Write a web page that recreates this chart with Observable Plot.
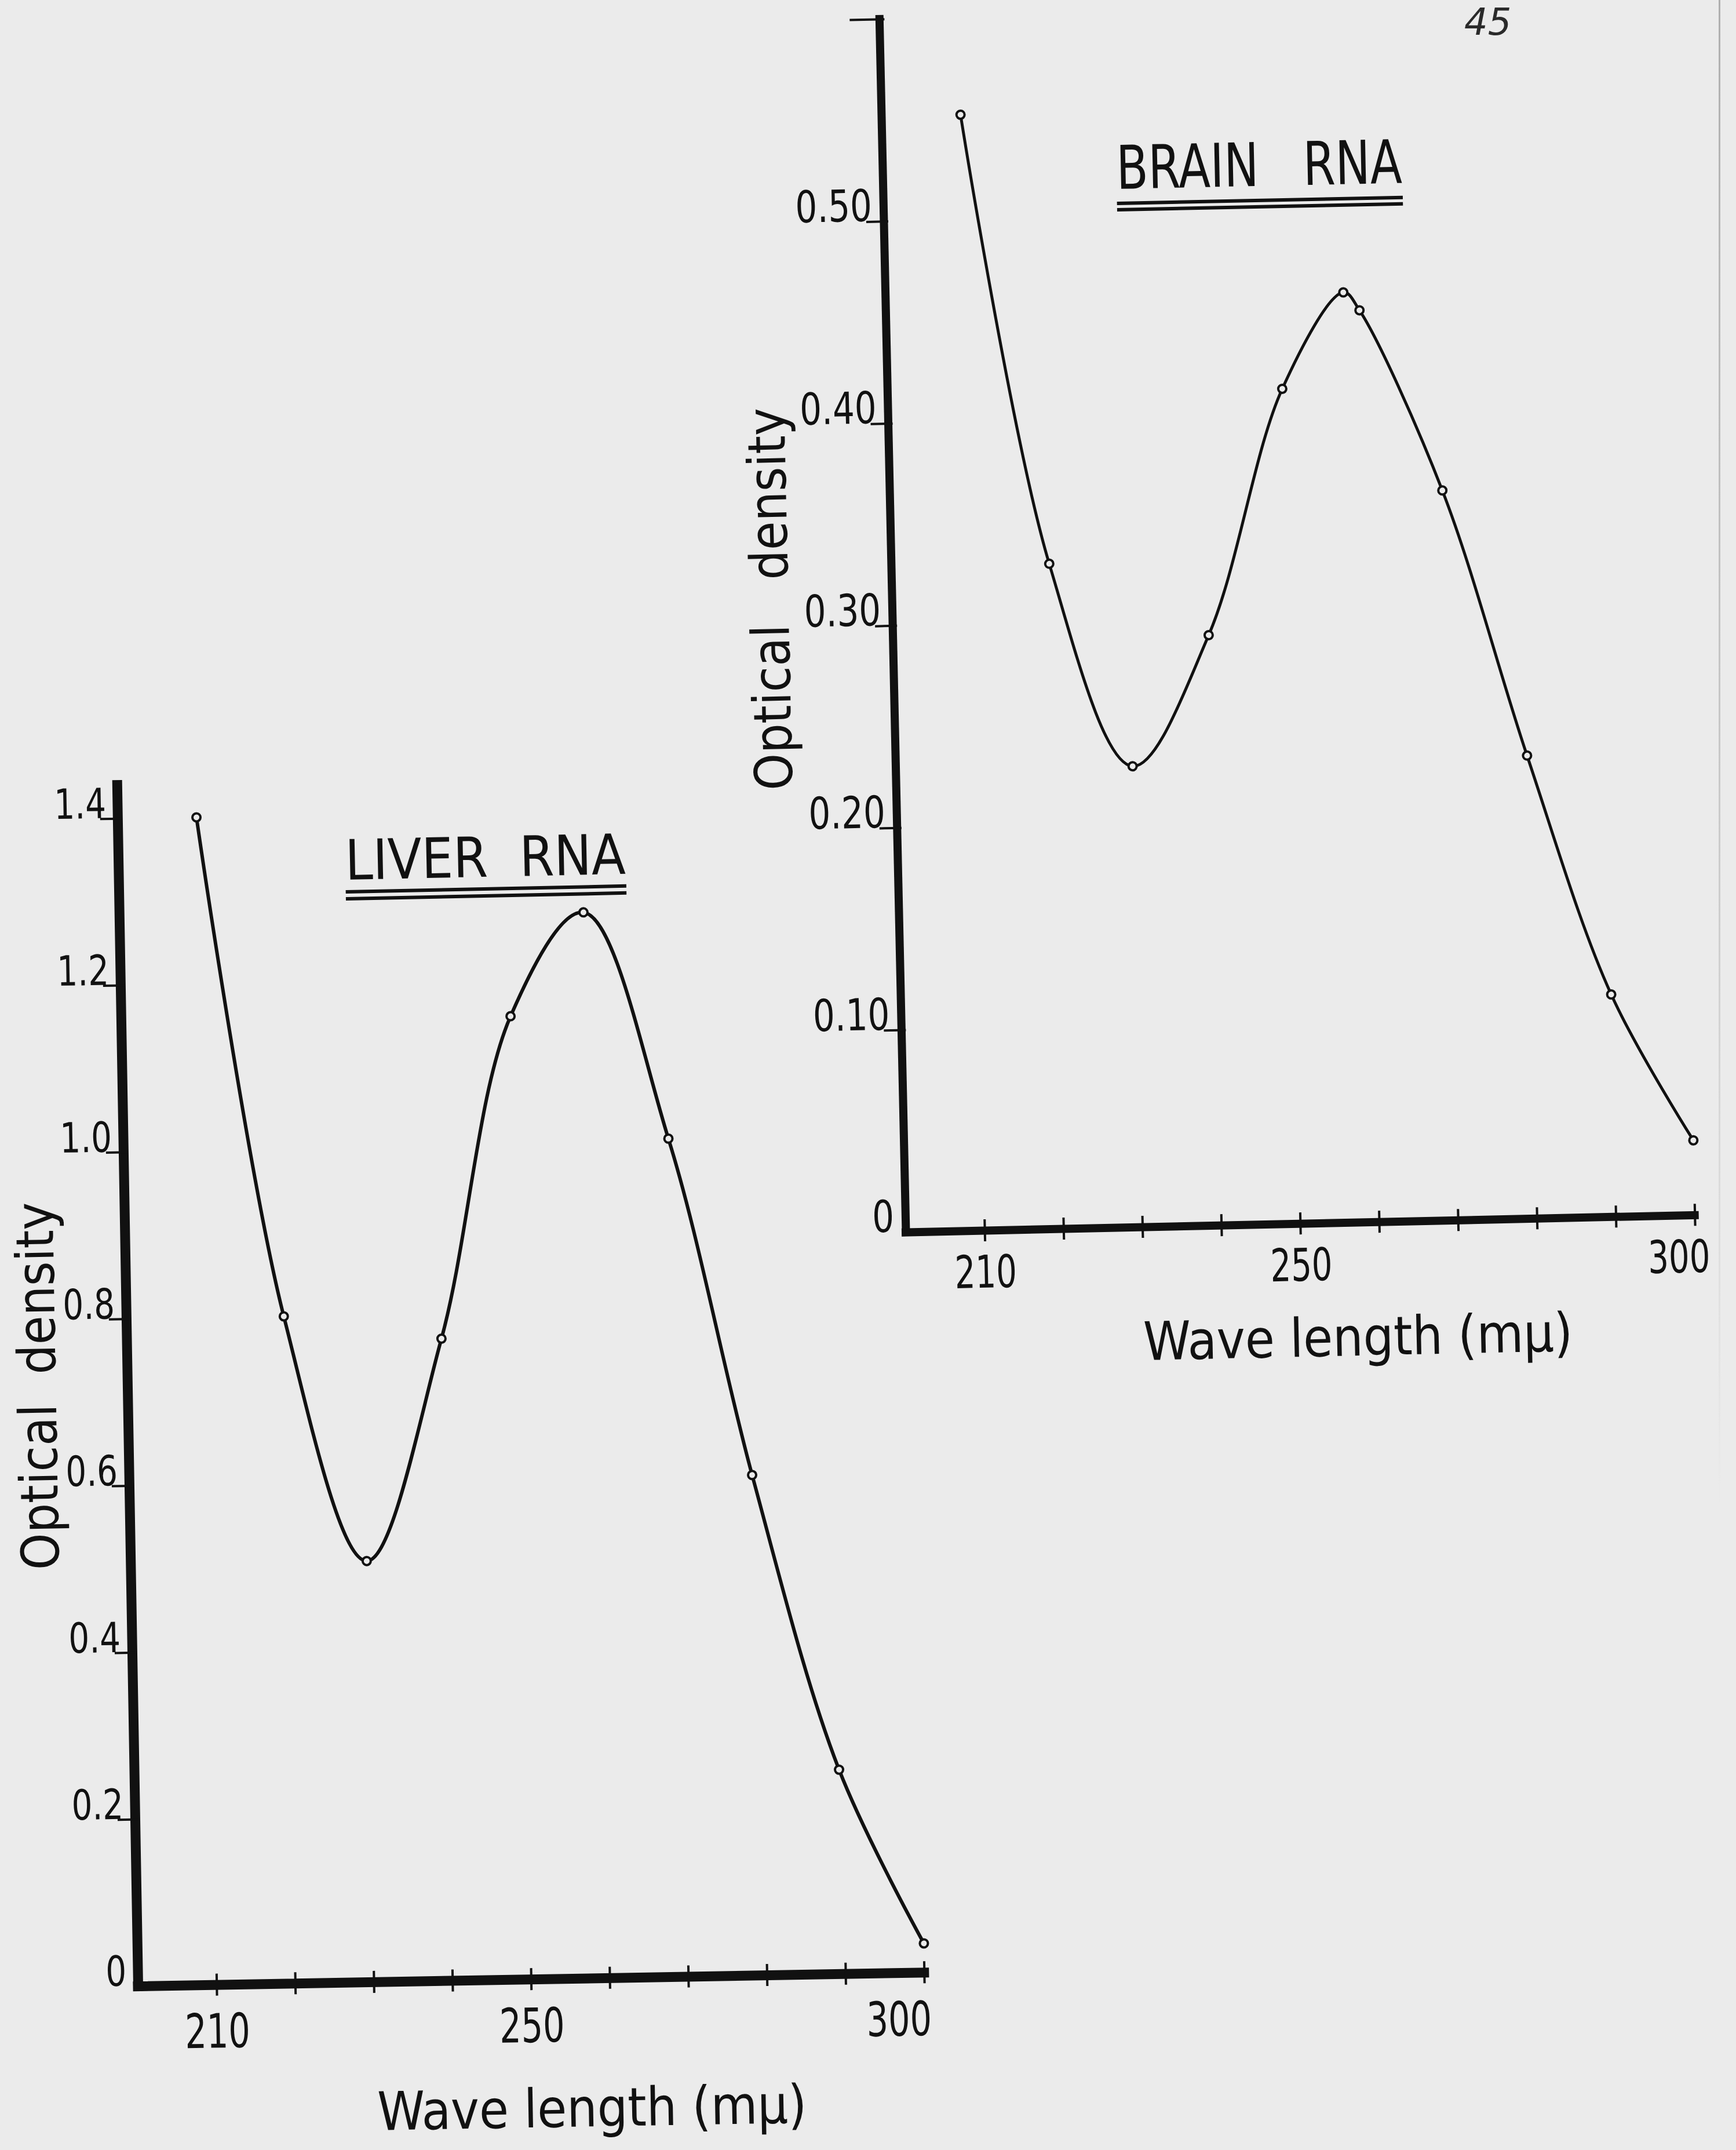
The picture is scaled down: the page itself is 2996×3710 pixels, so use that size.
<!DOCTYPE html>
<html>
<head>
<meta charset="utf-8">
<script src="https://cdn.jsdelivr.net/npm/d3@7"></script>
<script src="https://cdn.jsdelivr.net/npm/@observablehq/plot@0.6"></script>
<style>
  html, body { margin: 0; padding: 0; background: #ebebeb; }
  body { width: 2996px; height: 3710px; position: relative; overflow: hidden; }
  .panel { position: absolute; }
  .panel svg { display: block; max-width: none !important; overflow: visible; }
  .title {
    position: absolute; white-space: pre; color: #111;
    font-family: "DejaVu Sans Condensed", "DejaVu Sans", sans-serif; font-stretch: condensed;
    display: inline-block; transform-origin: left bottom;
  }
  .pageno { position: absolute; font-family: "DejaVu Sans", sans-serif; font-style: italic; color: #2a2a2a; line-height: 1.2; }
  .edge { position: absolute; left: 2966px; top: 0; width: 3px; height: 2600px;
    background: linear-gradient(to bottom, rgba(150,150,150,0.7), rgba(150,150,150,0.35) 60%, rgba(150,150,150,0)); }
</style>
</head>
<body>
<div class="edge"></div>
<div id="liver" class="panel"></div>
<div id="brain" class="panel"></div>
<div id="titleLiver" class="title">LIVER  RNA</div>
<div id="titleBrain" class="title">BRAIN   RNA</div>
<div class="pageno" id="pageno">45</div>
<script>
// ---------- data ----------
const liverWavelength = [210, 220, 230, 240, 249.5, 259, 269.3, 279.2, 289.6, 300];
const liverOD         = [1.40, 0.80, 0.505, 0.77, 1.155, 1.278, 1.005, 0.60, 0.245, 0.035];

const brainWavelength = [210, 220, 230, 240, 250, 258, 260, 270, 280, 290, 300];
const brainOD         = [0.552, 0.329, 0.228, 0.292, 0.413, 0.46, 0.451, 0.361, 0.229, 0.11, 0.037];

const xTickValues  = [210, 220, 230, 240, 250, 260, 270, 280, 290, 300];
const xTickLabelsA = [210, 250];
const xTickLabelsB = [300];

const liverYTicks  = [0.2, 0.4, 0.6, 0.8, 1.0, 1.2, 1.4];
const liverYLabels = [0, 0.2, 0.4, 0.6, 0.8, 1.0, 1.2, 1.4];
const brainYTicks  = [0.1, 0.2, 0.3, 0.4, 0.5];
const brainYCap    = [0.6];
const brainYLabels = [0, 0.1, 0.2, 0.3, 0.4, 0.5];

const xAxisLabel = "Wave length (mμ)";
const yAxisLabelLiver = "Optical  density";
const yAxisLabelBrain = "Optical   density";

// ---------- drawing ----------
const BG = "#ebebeb";
const INK = "#111";
const numFont = "'Liberation Sans Narrow', 'DejaVu Sans Condensed', 'DejaVu Sans', sans-serif";
const txtFont = "'DejaVu Sans Condensed', 'DejaVu Sans', sans-serif";

function panel(o) {
  const data = o.xs.map((x, i) => ({wavelength: x, od: o.ys[i]}));
  return Plot.plot({
    width: o.width, height: o.height,
    marginLeft: o.mL, marginRight: o.mR, marginTop: o.mT, marginBottom: o.mB,
    style: {background: "transparent", color: INK, maxWidth: "none", overflow: "visible", fontStretch: "condensed"},
    x: {domain: [200, 300]},
    y: {domain: o.yDomain},
    marks: [
      // axis lines
      Plot.ruleY([0], {x1: 200, x2: 300, stroke: INK, strokeWidth: o.axisW, strokeLinecap: "square"}),
      Plot.ruleX([200], {y1: 0, y2: o.yTop, stroke: INK, strokeWidth: o.axisW, strokeLinecap: "square"}),
      // x ticks crossing the axis
      Plot.axisX({ticks: xTickValues, tickSize: 38, dy: -19, fill: "none", strokeWidth: 4, label: null}),
      // x tick labels
      Plot.axisX({ticks: xTickLabelsA, tickSize: 0, tickPadding: o.xPad, tickFormat: d => String(d),
        fontSize: o.xFs, fontFamily: numFont, label: null}),
      Plot.axisX({ticks: xTickLabelsB, tickSize: 0, tickPadding: o.xPad, tickFormat: d => String(d),
        fontSize: o.xFs, fontFamily: numFont, dx: o.dx300, label: null}),
      // y ticks
      Plot.axisY({ticks: o.yTicks, tickSize: 38, dx: 8, fill: "none", strokeWidth: 4, label: null}),
      o.yCap ? Plot.axisY({ticks: o.yCap, tickSize: 60, dx: 9, fill: "none", strokeWidth: 4, label: null}) : null,
      // y tick labels
      Plot.axisY({ticks: o.yLabels, tickSize: 0, tickPadding: 20, tickFormat: o.yFmt,
        fontSize: o.yFs, fontFamily: numFont, dy: -o.yFs * 0.34, label: null}),
      // curve and points
      Plot.line(data, {x: "wavelength", y: "od", curve: "catmull-rom", stroke: INK, strokeWidth: o.lineW}),
      Plot.dot(data, {x: "wavelength", y: "od", r: 7, stroke: INK, strokeWidth: 4, fill: BG}),
      // axis titles
      Plot.text([o.yLabel], {frameAnchor: "left", textAnchor: "middle", lineAnchor: "middle", rotate: -90,
        dx: o.yLabDx, dy: o.yLabDy, fontSize: o.labFs, fontFamily: txtFont, fill: INK}),
      Plot.text([xAxisLabel], {frameAnchor: "bottom", textAnchor: "middle", lineAnchor: "middle",
        dx: o.xLabDx, dy: o.xLabDy, fontSize: 92, fontFamily: txtFont, fill: INK})
    ]
  });
}

const liverSvg = panel({
  xs: liverWavelength, ys: liverOD,
  width: 1655, height: 2417, mL: 238, mR: 60, mT: 50, mB: 280,
  yDomain: [0, 1.45], yTop: 1.44, yTicks: liverYTicks, yCap: null, yLabels: liverYLabels,
  yFmt: d => d === 0 ? "0" : d.toFixed(1), yLabel: yAxisLabelLiver,
  axisW: 17, lineW: 6, xPad: 50, xFs: 82, yFs: 72, dx300: -45,
  yLabDx: -153, yLabDy: 5, labFs: 90, xLabDx: 101, xLabDy: 226
});
const brainSvg = panel({
  xs: brainWavelength, ys: brainOD,
  width: 1735, height: 2401, mL: 313, mR: 60, mT: 30, mB: 260,
  yDomain: [0, 0.605], yTop: 0.6, yTicks: brainYTicks, yCap: brainYCap, yLabels: brainYLabels,
  yFmt: d => d === 0 ? "0" : d.toFixed(2), yLabel: yAxisLabelBrain,
  axisW: 14, lineW: 5, xPad: 43, xFs: 78, yFs: 76, dx300: -29,
  yLabDx: -208, yLabDy: -42, labFs: 90, xLabDx: 95, xLabDy: 200
});

function place(id, svg, left, top, ox, oy, deg) {
  const div = document.getElementById(id);
  div.style.left = left + "px";
  div.style.top = top + "px";
  div.style.transformOrigin = `${ox}px ${oy}px`;
  div.style.transform = `rotate(${deg}deg)`;
  div.appendChild(svg);
}
place("liver", liverSvg, 0, 1290, 238, 2137, -1.0);
place("brain", brainSvg, 1250, -15, 313, 2141, -1.25);

// the stencil lettering of the original has narrow digits: compress the tick numbers
function narrow(svg, selector, f) {
  svg.querySelectorAll(selector).forEach(t => {
    const L = t.getComputedTextLength();
    if (L > 0) {
      t.setAttribute("textLength", (L * f).toFixed(1));
      t.setAttribute("lengthAdjust", "spacingAndGlyphs");
    }
  });
}
for (const svg of [liverSvg, brainSvg]) {
  narrow(svg, 'g[aria-label="x-axis tick label"] text', 0.8);
  narrow(svg, 'g[aria-label="y-axis tick label"] text', 0.87);
}

function placeTitle(id, left, top, fs, targetW, border, pad, deg) {
  const el = document.getElementById(id);
  el.style.left = left + "px";
  el.style.top = top + "px";
  el.style.fontSize = fs + "px";
  el.style.lineHeight = fs + "px";
  el.style.paddingBottom = pad + "px";
  el.style.borderBottom = `${border}px double ${INK}`;
  const w = el.getBoundingClientRect().width;
  el.style.transform = `rotate(${deg}deg) scaleX(${targetW / w})`;
}
placeTitle("titleLiver", 597, 1437, 96, 484, 18, 3, -1.2);
placeTitle("titleBrain", 1928, 238, 104, 493, 17, 6, -1.2);

const pn = document.getElementById("pageno");
pn.style.left = "2527px"; pn.style.top = "0px"; pn.style.fontSize = "64px";
</script>
</body>
</html>
